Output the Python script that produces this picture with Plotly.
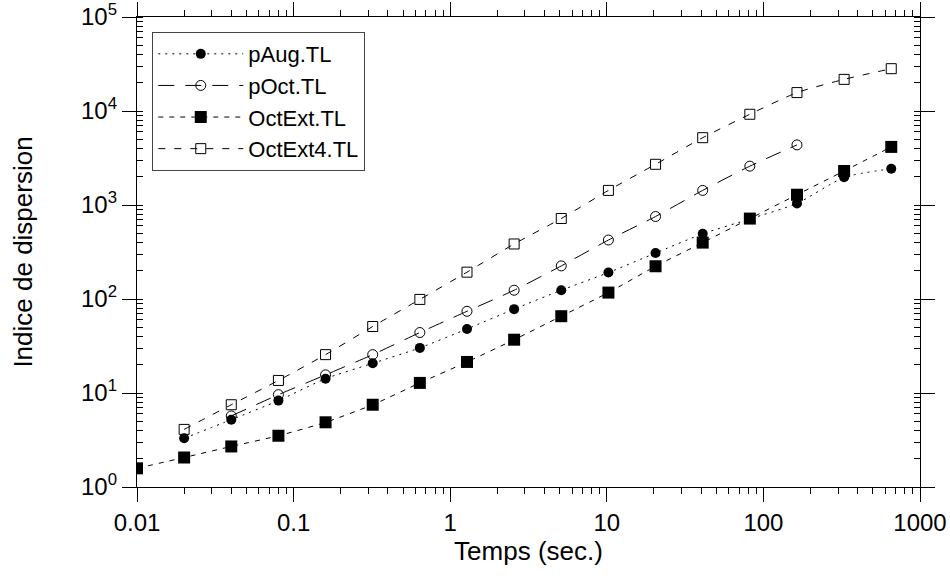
import plotly.graph_objects as go

# Time steps (seconds)
t_all = [0.01, 0.02, 0.04, 0.08, 0.16, 0.32, 0.64, 1.28, 2.56, 5.12,
         10.24, 20.48, 40.96, 81.92, 163.84, 327.68, 655.36]

# Series values
paug_t = t_all[1:]
paug_y = [3.3, 5.2, 8.3, 14.2, 20.7, 30.2, 48, 78, 124, 191, 308, 494, 710, 1040, 1970, 2430]

poct_t = t_all[2:15]
poct_y = [5.7, 9.6, 15.6, 25.6, 44, 74, 124, 225, 424, 754, 1430, 2590, 4360]

octext_t = t_all
octext_y = [1.58, 2.06, 2.70, 3.51, 4.88, 7.5, 12.8, 21.4, 36.9, 65.6, 117, 223, 398, 717, 1286, 2300, 4150]

octext4_t = t_all[1:]
octext4_y = [4.1, 7.5, 13.6, 25.6, 51, 99, 193, 385, 718, 1430, 2710, 5200, 9230, 15700, 21700, 28200]

# Tick labels
x_tickvals = [0.01, 0.1, 1, 10, 100, 1000]
x_ticktext = ["0.01", "0.1", "1", "10", "100", "1000"]
y_tickvals = [1, 10, 100, 1000, 10000, 100000]
y_ticktext = ["10<sup>0</sup>", "10<sup>1</sup>", "10<sup>2</sup>",
              "10<sup>3</sup>", "10<sup>4</sup>", "10<sup>5</sup>"]

FONT = "Liberation Sans, Arial, Helvetica, sans-serif"

fig = go.Figure()
fig.add_trace(go.Scatter(
    x=paug_t, y=paug_y, name="pAug.TL", mode="lines+markers",
    line=dict(color="black", width=1, dash="2px,5px", shape="spline", smoothing=0.6),
    marker=dict(symbol="circle", size=10, color="black")))
fig.add_trace(go.Scatter(
    x=poct_t, y=poct_y, name="pOct.TL", mode="lines+markers",
    line=dict(color="black", width=1, dash="16px,11px", shape="spline", smoothing=0.6),
    marker=dict(symbol="circle-open", size=10, color="black", line=dict(width=1))))
fig.add_trace(go.Scatter(
    x=octext_t, y=octext_y, name="OctExt.TL", mode="lines+markers",
    line=dict(color="black", width=1, dash="5px,6px", shape="spline", smoothing=0.6),
    marker=dict(symbol="square", size=12, color="black")))
fig.add_trace(go.Scatter(
    x=octext4_t, y=octext4_y, name="OctExt4.TL", mode="lines+markers",
    line=dict(color="black", width=1, dash="7px,9px", shape="spline", smoothing=0.6),
    marker=dict(symbol="square-open", size=10, color="black", line=dict(width=1))))

fig.update_layout(
    width=950, height=576,
    margin=dict(l=137, r=30, t=17, b=89),
    paper_bgcolor="white", plot_bgcolor="white",
    font=dict(family=FONT, size=24, color="black"),
    showlegend=True,
    legend=dict(
        x=0.0195, y=0.968, xanchor="left", yanchor="top",
        bgcolor="white", bordercolor="#444", borderwidth=1,
        font=dict(family=FONT, size=22), itemwidth=85,
        entrywidth=162, entrywidthmode="pixels",
        tracegroupgap=0),
    xaxis=dict(
        type="log", range=[-2, 3], automargin=False,
        tickvals=x_tickvals, ticktext=x_ticktext,
        ticks="outside", ticklen=14, tickwidth=1, tickcolor="black",
        showline=True, linecolor="black", linewidth=1.3, mirror="ticks",
        showgrid=False, zeroline=False,
        tickfont=dict(family=FONT, size=24),
        minor=dict(ticks="outside", ticklen=6, tickwidth=1, tickcolor="black",
                   dtick="D1", showgrid=False),
        title=dict(text="Temps (sec.)", font=dict(family=FONT, size=26), standoff=6),
    ),
    yaxis=dict(
        type="log", range=[0, 5], automargin=False,
        tickvals=y_tickvals, ticktext=y_ticktext,
        ticks="outside", ticklen=14, tickwidth=1, tickcolor="black",
        showline=True, linecolor="black", linewidth=1.3, mirror="ticks",
        showgrid=False, zeroline=False,
        tickfont=dict(family=FONT, size=24),
        minor=dict(ticks="inside", ticklen=6, tickwidth=1, tickcolor="black",
                   dtick="D1", showgrid=False),
        title=dict(text="Indice de dispersion", font=dict(family=FONT, size=26), standoff=40),
    ),
    yaxis2=dict(
        type="log", range=[0, 5], overlaying="y", anchor="x", side="left",
        automargin=False,
        tickvals=y_tickvals, showticklabels=False,
        ticks="inside", ticklen=14, tickwidth=1, tickcolor="black",
        showline=False, mirror="ticks", showgrid=False, zeroline=False,
    ),
)

fig.write_html("out.html")
